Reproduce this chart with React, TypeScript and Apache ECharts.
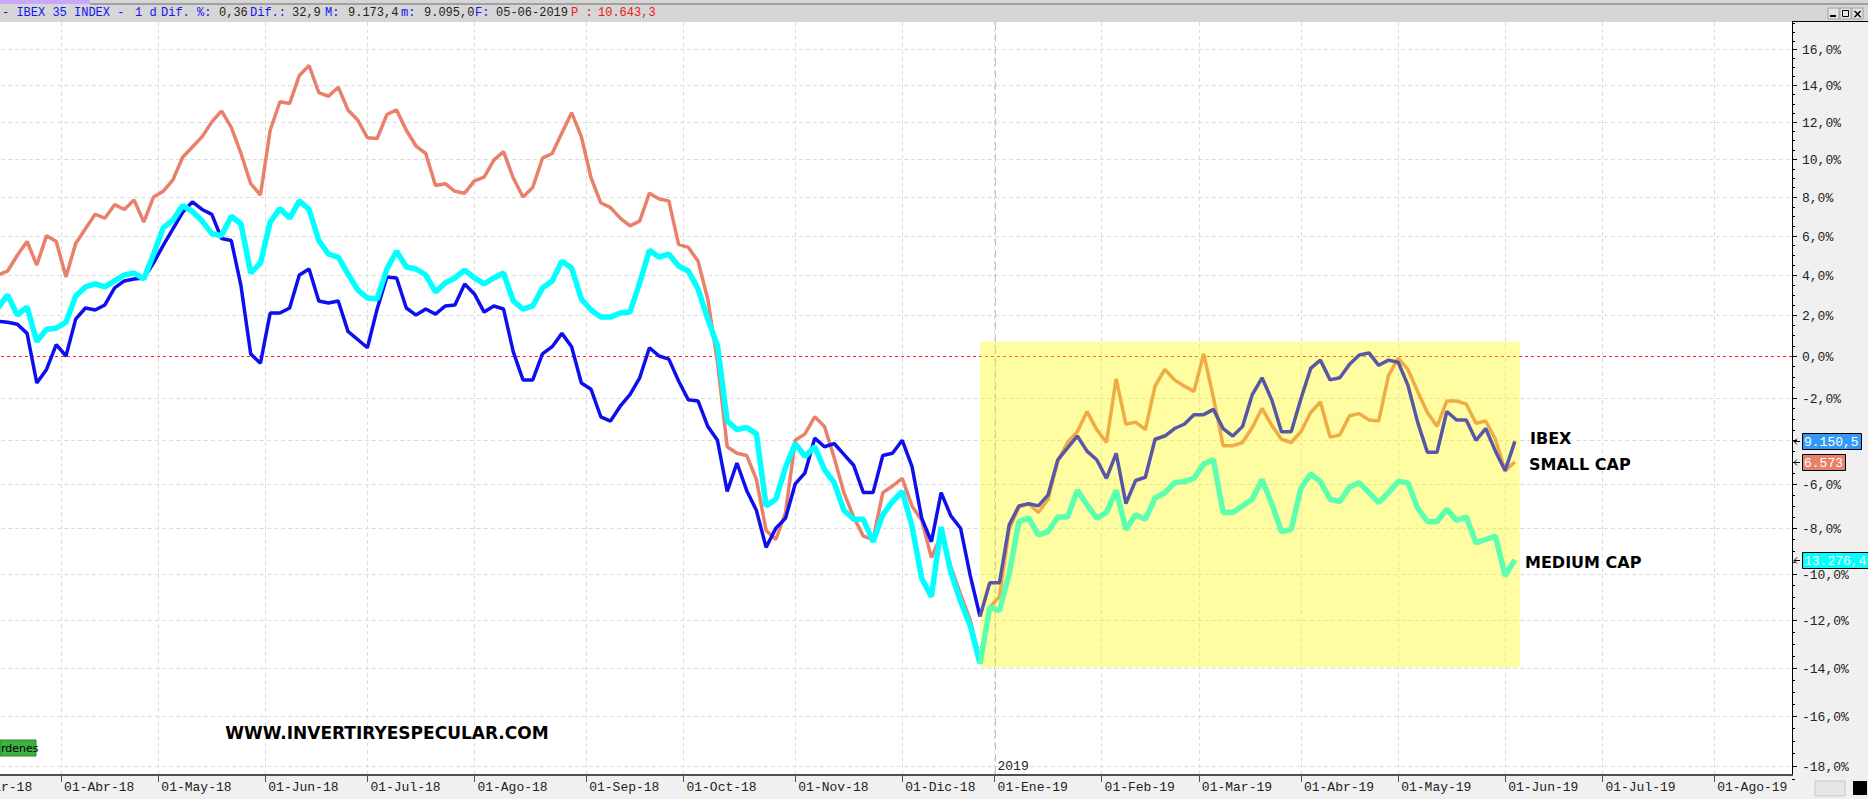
import React, { useEffect, useRef } from 'react';
import * as echarts from 'echarts';

// ---------- calendar / axis definitions ----------
const MONTHS_ES = ['Ene', 'Feb', 'Mar', 'Abr', 'May', 'Jun', 'Jul', 'Ago', 'Sep', 'Oct', 'Nov', 'Dic'];
const HOLIDAYS = ['2018-03-30', '2018-04-02', '2018-05-01', '2018-12-25', '2018-12-26', '2019-01-01', '2019-04-19', '2019-04-22', '2019-05-01'];
const AXIS_FIRST_DAY = '2018-03-01';
const AXIS_LAST_DAY = '2019-08-23';
const YEAR_MARK_DAY = '2019-01-02';
const YEAR_MARK_LABEL = '2019';
// one reading every second trading session, starting on this day
const SAMPLE_START = '2018-03-13';
const SAMPLE_STEP = 2;

const Y_TICKS = [-18, -16, -14, -12, -10, -8, -6, -4, -2, 0, 2, 4, 6, 8, 10, 12, 14, 16];
const Y_MIN_PCT = -18.36;
const Y_MAX_PCT = 17.55;

// ---------- series (% change, log-scaled chart) ----------
const ibex = [
  1.7, 1.65, 1.55, 1.1, -1.3, -0.65, 0.55, 0.0, 1.8, 2.35,
  2.25, 2.5, 3.35, 3.7, 3.8, 3.85, 4.6, 5.5, 6.35, 7.2,
  7.75, 7.35, 7.1, 5.85, 5.75, 3.45, 0.1, -0.35, 2.1, 2.1,
  2.35, 4.0, 4.3, 2.7, 2.6, 2.7, 1.2, 0.8, 0.4, 2.3,
  3.9, 3.85, 2.35, 2.0, 2.3, 2.05, 2.45, 2.5, 3.55, 3.05,
  2.15, 2.45, 2.3, 0.2, -1.15, -1.15, 0.1, 0.45, 1.1, 0.45,
  -1.3, -1.6, -2.9, -3.1, -2.4, -1.85, -1.05, 0.4, 0.0, -0.15,
  -1.2, -2.1, -2.15, -3.35, -4.0, -6.35, -5.05, -6.3, -7.2, -8.85,
  -8.0, -7.55, -6.0, -5.5, -3.9, -4.3, -4.15, -4.65, -5.15, -6.4,
  -6.4, -4.7, -4.6, -4.0, -5.2, -7.55, -8.6, -6.4, -7.45, -8.0,
  -10.1, -11.85, -10.4, -10.4, -7.85, -7.0, -6.9, -7.0, -6.5, -4.9,
  -4.35, -3.8, -4.5, -4.9, -5.75, -4.6, -6.9, -5.85, -5.7, -3.95,
  -3.8, -3.45, -3.25, -2.8, -2.8, -2.55, -3.45, -3.8, -3.35, -1.85,
  -1.05, -2.1, -3.6, -3.6, -2.05, -0.6, -0.2, -1.15, -1.05, -0.4,
  0.05, 0.15, -0.45, -0.2, -0.3, -1.4, -3.15, -4.55, -4.55, -2.65,
  -3.05, -3.05, -4.0, -3.45, -4.5, -5.4, -4.05,
];
const smallCap = [
  4.0, 4.2, 5.0, 5.7, 4.5, 6.0, 5.7, 3.9, 5.6, 6.35,
  7.1, 6.9, 7.6, 7.35, 7.85, 6.7, 8.0, 8.3, 8.9, 10.1,
  10.65, 11.2, 12.0, 12.6, 11.7, 10.3, 8.7, 8.1, 11.55, 13.1,
  13.0, 14.55, 15.1, 13.6, 13.4, 13.9, 12.65, 12.1, 11.15, 11.1,
  12.4, 12.65, 11.55, 10.7, 10.3, 8.6, 8.7, 8.3, 8.2, 8.85,
  9.05, 9.95, 10.4, 9.0, 8.0, 8.5, 10.05, 10.3, 11.4, 12.5,
  11.2, 9.0, 7.7, 7.45, 6.9, 6.5, 6.75, 8.2, 7.9, 7.8,
  5.55, 5.4, 4.7, 2.8, -0.3, -4.3, -4.6, -4.7, -5.8, -8.1,
  -8.5, -7.3, -4.0, -3.7, -2.9, -3.35, -4.8, -6.4, -7.5, -8.35,
  -8.5, -6.4, -6.1, -5.75, -7.0, -7.65, -9.3, -8.3, -9.7, -10.9,
  -12.0, -13.7, -11.45, -11.0, -8.05, -7.05, -6.9, -7.3, -6.7, -4.95,
  -4.1, -3.6, -2.65, -3.5, -4.1, -1.1, -3.25, -3.15, -3.5, -1.45,
  -0.65, -1.15, -1.45, -1.7, 0.1, -2.0, -4.25, -4.25, -4.1, -3.4,
  -2.5, -3.3, -3.95, -4.1, -3.6, -2.7, -2.2, -3.85, -3.75, -2.85,
  -2.75, -3.05, -3.1, -0.95, -0.1, -0.65, -1.7, -2.7, -3.35, -2.15,
  -2.15, -2.3, -3.2, -3.1, -3.95, -5.4, -5.0,
];
const mediumCap = [
  2.35, 3.0, 2.0, 2.4, 0.7, 1.3, 1.35, 1.65, 2.95, 3.4,
  3.55, 3.4, 3.7, 4.0, 4.1, 3.8, 5.05, 6.4, 6.8, 7.55,
  7.25, 6.75, 6.1, 6.0, 7.0, 6.6, 4.1, 4.6, 6.7, 7.4,
  6.9, 7.8, 7.35, 5.75, 5.05, 4.9, 4.05, 3.25, 2.85, 2.8,
  4.3, 5.2, 4.4, 4.3, 4.0, 3.15, 3.6, 3.85, 4.25, 3.85,
  3.55, 3.85, 4.1, 2.7, 2.3, 2.45, 3.35, 3.7, 4.7, 4.35,
  2.8, 2.25, 1.9, 1.9, 2.1, 2.15, 3.6, 5.25, 4.9, 5.05,
  4.45, 4.2, 3.3, 1.8, 0.5, -3.1, -3.5, -3.4, -3.7, -7.0,
  -6.7, -5.25, -4.15, -4.75, -4.3, -5.35, -5.95, -7.2, -7.6, -7.6,
  -8.6, -7.4, -6.8, -6.35, -7.9, -10.2, -11.0, -7.95, -9.95, -11.2,
  -12.25, -13.85, -11.45, -11.6, -10.0, -7.7, -7.55, -8.3, -8.15, -7.5,
  -7.5, -6.3, -6.95, -7.55, -7.3, -6.3, -8.05, -7.4, -7.6, -6.65,
  -6.4, -5.95, -5.9, -5.75, -5.1, -4.9, -7.3, -7.3, -7.0, -6.7,
  -5.8, -6.9, -8.15, -8.05, -6.2, -5.55, -5.9, -6.7, -6.8, -6.15,
  -5.95, -6.4, -6.85, -6.4, -5.9, -5.95, -7.1, -7.7, -7.7, -7.15,
  -7.65, -7.5, -8.65, -8.5, -8.35, -10.1, -9.4,
];

const LAST_PRICES = ['9.150,5', '6.573', '13.276,4'];
const SERIES_NAMES = ['IBEX', 'SMALL CAP', 'MEDIUM CAP'];
const HIGHLIGHT = { from: '2018-12-27', to: '2019-06-06', topPct: 0.7, bottomPct: -14 };

// header strip: [text, colour key, left x]
const HEADER_PARTS: [string, string, number][] = [
  ['- IBEX 35 INDEX -', 'b', 2],
  ['1 d', 'b', 135],
  ['Dif. %:', 'b', 161],
  ['0,36', 'k', 219],
  ['Dif.:', 'b', 250],
  ['32,9', 'k', 292],
  ['M:', 'b', 325],
  ['9.173,4', 'k', 348],
  ['m:', 'b', 401],
  ['9.095,0', 'k', 424],
  ['F:', 'b', 475],
  ['05-06-2019', 'k', 496],
  ['P :', 'r', 571],
  ['10.643,3', 'r', 598],
];
const HEADER_COLORS: Record<string, string> = { b: '#1414F5', k: '#1E1E1E', r: '#F01414' };

// ---------- helpers ----------
const W = 1868;
const H = 799;
const MONO = '"Liberation Mono", "DejaVu Sans Mono", monospace';
const toY = (p: number) => Math.log(1 + p / 100);

function buildTradingDays(first: string, last: string): string[] {
  const out: string[] = [];
  const d = new Date(first + 'T00:00:00Z');
  const end = new Date(last + 'T00:00:00Z');
  while (d.getTime() <= end.getTime()) {
    const dow = d.getUTCDay();
    const s = d.toISOString().slice(0, 10);
    if (dow !== 0 && dow !== 6 && HOLIDAYS.indexOf(s) < 0) out.push(s);
    d.setUTCDate(d.getUTCDate() + 1);
  }
  return out;
}
const DAYS = buildTradingDays(AXIS_FIRST_DAY, AXIS_LAST_DAY);
const isMonthStart = (i: number) => i === 0 || DAYS[i].slice(5, 7) !== DAYS[i - 1].slice(5, 7);
const fmtMonth = (s: string) => `01-${MONTHS_ES[parseInt(s.slice(5, 7), 10) - 1]}-${s.slice(2, 4)}`;
const fmtPct = (p: number) => `${p.toFixed(1).replace('.', ',')}%`;

function seriesData(values: number[]) {
  const start = DAYS.indexOf(SAMPLE_START);
  return values.map((v, k) => [DAYS[start + k * SAMPLE_STEP], toY(v)]);
}

const CUSTOM_BASE = { type: 'custom', coordinateSystem: 'cartesian2d', xAxisIndex: 0, yAxisIndex: 0, silent: true, clip: false, animation: false };

function buildOption(): any {
  const startIdx = DAYS.indexOf(SAMPLE_START);
  const lastDay = DAYS[startIdx + (ibex.length - 1) * SAMPLE_STEP];
  const splitK = Math.round((DAYS.indexOf(HIGHLIGHT.from) - startIdx) / SAMPLE_STEP);
  const minorTicks: number[] = [];
  for (let p = -18.5; p <= 17.5 + 1e-9; p += 0.5) {
    if (Math.abs(p / 2 - Math.round(p / 2)) > 1e-6) minorTicks.push(p);
  }
  const allSeries = [ibex, smallCap, mediumCap];
  const lastVals = allSeries.map((s) => s[s.length - 1]);

  // each line is drawn in its normal colour before the highlight box, and in the tinted colour inside it
  const lineDefs = [
    { name: 'SMALL CAP', values: smallCap, colors: ['#E9806A', '#F0AA46'], width: 3.5, z: 2 },
    { name: 'IBEX', values: ibex, colors: ['#0F0FEE', '#5757A6'], width: 3.5, z: 3 },
    { name: 'MEDIUM CAP', values: mediumCap, colors: ['#00FFFF', '#5BFFAE'], width: 5.5, z: 4 },
  ];
  const lineSeries: any[] = [];
  lineDefs.forEach((d) => {
    const data = seriesData(d.values);
    lineSeries.push({ type: 'line', name: d.name, showSymbol: false, symbol: 'none', silent: true, z: d.z, data: data.slice(0, splitK + 1), lineStyle: { width: d.width, color: d.colors[0] }, itemStyle: { color: d.colors[0] } });
    lineSeries.push({ type: 'line', name: d.name, showSymbol: false, symbol: 'none', silent: true, z: d.z, data: data.slice(splitK), lineStyle: { width: d.width, color: d.colors[1] }, itemStyle: { color: d.colors[1] } });
  });

  const headerTexts = HEADER_PARTS.map(([t, c, x]) => ({
    type: 'text', z: 5, silent: true, x, y: 13,
    style: { text: t, fill: HEADER_COLORS[c], fontFamily: MONO, fontSize: 12, verticalAlign: 'middle' },
  }));

  return {
    animation: false,
    grid: { left: -41, right: 76, top: 22, bottom: 24, containLabel: false, outerBoundsMode: 'none' },
    xAxis: {
      type: 'category',
      data: DAYS,
      boundaryGap: false,
      axisLine: { show: true, onZero: false, lineStyle: { color: '#505050', width: 2 } },
      axisTick: { show: true, interval: (i: number) => isMonthStart(i), length: 7, lineStyle: { color: '#505050' } },
      axisLabel: {
        show: true,
        interval: (i: number) => isMonthStart(i),
        formatter: (v: string) => fmtMonth(v),
        align: 'left',
        padding: [0, 0, 0, 3],
        margin: 6,
        fontFamily: MONO,
        fontSize: 13,
        color: '#222',
      },
      splitLine: { show: true, interval: (i: number) => isMonthStart(i), lineStyle: { color: '#DDDDDD', type: [4, 3], width: 1 } },
    },
    yAxis: {
      type: 'value',
      position: 'right',
      min: toY(Y_MIN_PCT),
      max: toY(Y_MAX_PCT),
      axisLine: { show: true, onZero: false, lineStyle: { color: '#000', width: 1 } },
      axisTick: { show: false },
      axisLabel: { show: false },
      splitLine: { show: false },
    },
    series: [
      ...lineSeries,
      // horizontal grid lines (log spaced) and the red 0% reference line
      {
        ...CUSTOM_BASE, name: 'ygrid', z: 1,
        encode: { x: 0, y: 1 },
        data: Y_TICKS.map((p) => [DAYS[0], toY(p)]),
        renderItem: (params: any, api: any) => {
          const cs = params.coordSys;
          const y = Math.round(api.coord([api.value(0), api.value(1)])[1]) + 0.5;
          const p = Y_TICKS[params.dataIndex];
          return {
            type: 'line',
            shape: { x1: cs.x, y1: y, x2: cs.x + cs.width, y2: y },
            style: { stroke: p === 0 ? '#FF2020' : '#DDDDDD', lineWidth: 1, lineDash: p === 0 ? [3, 3] : [4, 3] },
          };
        },
      },
      // yellow highlight box (semi transparent)
      {
        ...CUSTOM_BASE, name: 'highlight', z: 1,
        encode: { x: [0, 2], y: [1, 3] },
        data: [[HIGHLIGHT.from, toY(HIGHLIGHT.topPct), HIGHLIGHT.to, toY(HIGHLIGHT.bottomPct)]],
        renderItem: (params: any, api: any) => {
          const p0 = api.coord([api.value(0), api.value(1)]);
          const p1 = api.coord([api.value(2), api.value(3)]);
          return {
            type: 'rect',
            z2: 10,
            shape: { x: p0[0], y: p0[1], width: p1[0] - p0[0], height: p1[1] - p0[1] },
            style: { fill: 'rgba(255,250,0,0.37)' },
          };
        },
      },
      // 2019 year separator
      {
        ...CUSTOM_BASE, name: 'year', z: 1,
        encode: { x: 0, y: 1 },
        data: [[YEAR_MARK_DAY, 0]],
        renderItem: (params: any, api: any) => {
          const cs = params.coordSys;
          const x = Math.round(api.coord([api.value(0), api.value(1)])[0]) + 0.5;
          return {
            type: 'group',
            children: [
              { type: 'line', shape: { x1: x, y1: cs.y, x2: x, y2: cs.y + cs.height }, style: { stroke: '#C4C4C4', lineWidth: 1, lineDash: [8, 4] } },
              { type: 'text', x: x + 2, y: cs.y + cs.height - 2, style: { text: YEAR_MARK_LABEL, fill: '#222', fontFamily: MONO, fontSize: 13, align: 'left', verticalAlign: 'bottom' } },
            ],
          };
        },
      },
      // right axis ticks + labels (a label sitting under a last-price badge is hidden by it)
      {
        ...CUSTOM_BASE, name: 'yticks', z: 6,
        encode: { x: 0, y: 1 },
        data: Y_TICKS.map((p) => [DAYS[0], toY(p)]),
        renderItem: (params: any, api: any) => {
          const cs = params.coordSys;
          const y = Math.round(api.coord([api.value(0), api.value(1)])[1]) + 0.5;
          const ax = cs.x + cs.width;
          const p = Y_TICKS[params.dataIndex];
          const covered = lastVals.some((v) => {
            const by = api.coord([api.value(0), toY(v)])[1];
            return Math.abs(by - y) < 14;
          });
          const children: any[] = [
            { type: 'line', shape: { x1: ax, y1: y, x2: ax + 5, y2: y }, style: { stroke: '#000', lineWidth: 1 } },
          ];
          if (!covered) {
            children.push({ type: 'text', x: ax + 10, y: y + 1, style: { text: fmtPct(p), fill: '#222', fontFamily: MONO, fontSize: 13, align: 'left', verticalAlign: 'middle' } });
          }
          return { type: 'group', children };
        },
      },
      {
        ...CUSTOM_BASE, name: 'yminor', z: 6,
        encode: { x: 0, y: 1 },
        data: minorTicks.map((p) => [DAYS[0], toY(p)]),
        renderItem: (params: any, api: any) => {
          const cs = params.coordSys;
          const y = Math.round(api.coord([api.value(0), api.value(1)])[1]) + 0.5;
          const ax = cs.x + cs.width;
          return { type: 'line', shape: { x1: ax, y1: y, x2: ax + 3, y2: y }, style: { stroke: '#000', lineWidth: 1 } };
        },
      },
      // last-price badges on the right axis
      {
        ...CUSTOM_BASE, name: 'badges', z: 7,
        encode: { x: 0, y: 1 },
        data: lastVals.map((v) => [lastDay, toY(v)]),
        renderItem: (params: any, api: any) => {
          const cs = params.coordSys;
          const i = params.dataIndex;
          const y = Math.round(api.coord([api.value(0), api.value(1)])[1]);
          const ax = cs.x + cs.width;
          const txt = LAST_PRICES[i];
          const fills = ['#3399F5', '#E9806A', '#00FFFF'];
          const w = txt.length * 8 + 3;
          return {
            type: 'group',
            children: [
              { type: 'line', shape: { x1: ax + 2, y1: y + 0.5, x2: ax + 8, y2: y + 0.5 }, style: { stroke: '#000', lineWidth: 1 } },
              { type: 'polyline', shape: { points: [[ax + 5, y - 2.5], [ax + 2, y + 0.5], [ax + 5, y + 3.5]] }, style: { stroke: '#000', lineWidth: 1, fill: null } },
              { type: 'rect', shape: { x: ax + 10.5, y: y - 7.5, width: w, height: 16 }, style: { fill: fills[i], stroke: '#000', lineWidth: 1 } },
              { type: 'text', x: ax + 12, y: y + 1, style: { text: txt, fill: '#FFFFFF', fontFamily: MONO, fontSize: 13, align: 'left', verticalAlign: 'middle' } },
            ],
          };
        },
      },
    ],
    graphic: [
      // window chrome
      { type: 'rect', z: -10, silent: true, shape: { x: 1792, y: 0, width: 76, height: H }, style: { fill: '#F0F0F0' } },
      { type: 'rect', z: -10, silent: true, shape: { x: 0, y: 776, width: 1792, height: 23 }, style: { fill: '#F0F0F0' } },
      { type: 'rect', z: -9, silent: true, shape: { x: 0, y: 0, width: W, height: 22 }, style: { fill: '#D6D6D6' } },
      { type: 'rect', z: -8, silent: true, shape: { x: 0, y: 0, width: 90, height: 4 }, style: { fill: '#C8A8F8' } },
      { type: 'rect', z: -8, silent: true, shape: { x: 90, y: 3, width: W - 90, height: 2 }, style: { fill: '#A0A0A0' } },
      { type: 'rect', z: -8, silent: true, shape: { x: 1792, y: 21, width: 76, height: 1 }, style: { fill: '#000' } },
      ...headerTexts,
      // window buttons
      { type: 'rect', z: 5, silent: true, shape: { x: 1828, y: 8, width: 11, height: 11 }, style: { fill: '#E4E4E4', stroke: '#A0A0A0' } },
      { type: 'rect', z: 5, silent: true, shape: { x: 1840, y: 8, width: 11, height: 11 }, style: { fill: '#E4E4E4', stroke: '#A0A0A0' } },
      { type: 'rect', z: 5, silent: true, shape: { x: 1852, y: 8, width: 11, height: 11 }, style: { fill: '#E4E4E4', stroke: '#A0A0A0' } },
      { type: 'rect', z: 6, silent: true, shape: { x: 1830, y: 15, width: 6, height: 2 }, style: { fill: '#000' } },
      { type: 'rect', z: 6, silent: true, shape: { x: 1842.5, y: 10.5, width: 6, height: 6 }, style: { fill: 'none', stroke: '#000', lineWidth: 1 } },
      { type: 'text', z: 6, silent: true, x: 1857.5, y: 14, style: { text: '×', fill: '#000', font: 'bold 12px "DejaVu Sans"', align: 'center', verticalAlign: 'middle' } },
      // watermark and annotations
      { type: 'text', z: 8, silent: true, x: 387, y: 733, style: { text: 'WWW.INVERTIRYESPECULAR.COM', fill: '#000', font: 'bold 17px "DejaVu Sans"', align: 'center', verticalAlign: 'middle' } },
      { type: 'text', z: 8, silent: true, x: 1530, y: 438, style: { text: SERIES_NAMES[0], fill: '#000', font: 'bold 16px "DejaVu Sans"', verticalAlign: 'middle' } },
      { type: 'text', z: 8, silent: true, x: 1529, y: 464, style: { text: SERIES_NAMES[1], fill: '#000', font: 'bold 16px "DejaVu Sans"', verticalAlign: 'middle' } },
      { type: 'text', z: 8, silent: true, x: 1525, y: 562, style: { text: SERIES_NAMES[2], fill: '#000', font: 'bold 16px "DejaVu Sans"', verticalAlign: 'middle' } },
      // cut-off "Órdenes" button
      { type: 'rect', z: 8, silent: true, shape: { x: 0, y: 740, width: 36, height: 16 }, style: { fill: '#3CB043', stroke: '#2A8A2A' } },
      { type: 'text', z: 9, silent: true, x: 1, y: 748, style: { text: 'rdenes', fill: '#000', font: '11px "DejaVu Sans"', verticalAlign: 'middle' } },
      // bottom-right toolbar
      { type: 'rect', z: 8, silent: true, shape: { x: 1853, y: 781, width: 14, height: 14 }, style: { fill: '#000' } },
      { type: 'rect', z: 8, silent: true, shape: { x: 1815, y: 781, width: 30, height: 15 }, style: { fill: '#E6E6E6', stroke: '#C8C8C8' } },
    ],
  };
}

export default function App() {
  const ref = useRef<HTMLDivElement>(null);
  useEffect(() => {
    if (!ref.current) return;
    const chart = echarts.init(ref.current, null, { renderer: 'svg', width: W, height: H });
    chart.setOption(buildOption());
    return () => chart.dispose();
  }, []);
  return <div ref={ref} style={{ position: 'fixed', left: 0, top: 0, width: W, height: H, background: '#FFFFFF' }} />;
}
